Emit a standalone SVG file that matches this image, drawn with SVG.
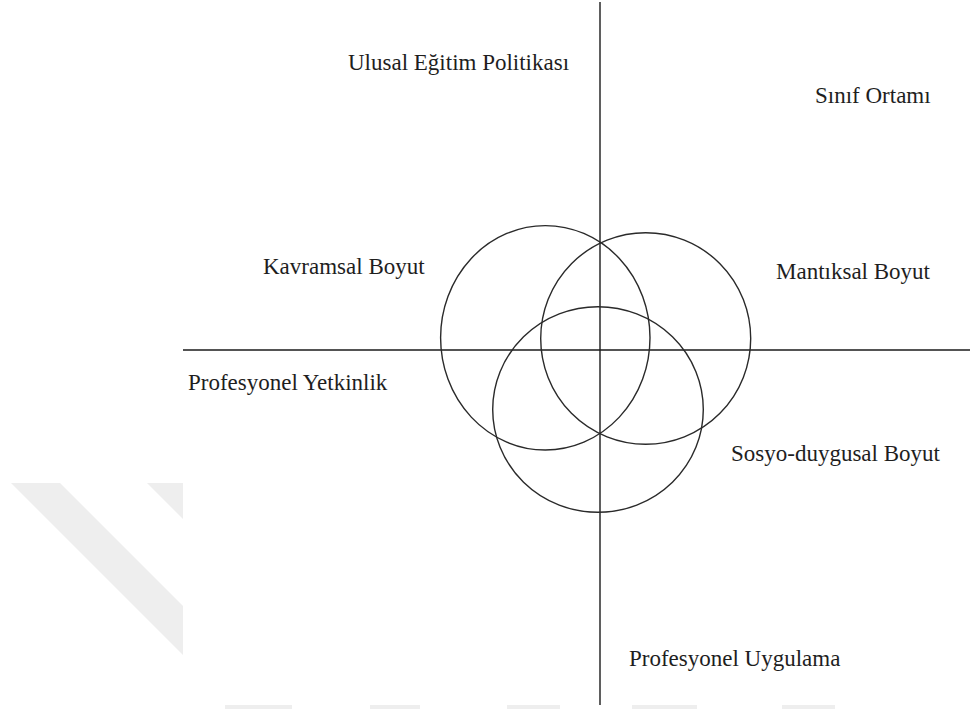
<svg xmlns="http://www.w3.org/2000/svg" width="970" height="709" viewBox="0 0 970 709">
  <style>
    .lbl { font-family: "Liberation Serif", "Times New Roman", serif; font-size: 23px; fill: #1e1e1e; }
    .axis { stroke: #1a1a1a; stroke-width: 1.4; fill: none; }
    .ring { stroke: #2a2a2a; stroke-width: 1.4; fill: none; }
    .wm { fill: #eeeeee; }
  </style>
  <rect x="0" y="0" width="970" height="709" fill="#ffffff"/>
  <g id="watermark">
    <polygon class="wm" points="11,483 60,483 183,606 183,655"/>
    <polygon class="wm" points="147,483 183,483 183,519"/>
    <rect class="wm" x="225" y="705" width="67" height="4"/>
    <rect class="wm" x="370" y="705" width="50" height="4"/>
    <rect class="wm" x="507" y="705" width="53" height="4"/>
    <rect class="wm" x="632" y="705" width="65" height="4"/>
    <rect class="wm" x="782" y="705" width="53" height="4"/>
  </g>
  <g id="axes">
    <line class="axis" x1="600" y1="2" x2="600" y2="705"/>
    <line class="axis" x1="183" y1="350" x2="970" y2="350"/>
  </g>
  <g id="circles">
    <ellipse id="circle-kavramsal" class="ring" cx="545.3" cy="337.8" rx="104.7" ry="112.2"/>
    <ellipse id="circle-mantiksal" class="ring" cx="645.7" cy="338.5" rx="105" ry="105.8"/>
    <ellipse id="circle-sosyo" class="ring" cx="598" cy="409.5" rx="105.3" ry="102.8"/>
  </g>
  <g id="label-ulusal"><text class="lbl" x="348" y="70">Ulusal Eğitim Politikası</text></g>
  <g id="label-sinif"><text class="lbl" x="815" y="103">Sınıf Ortamı</text></g>
  <g id="label-kavramsal"><text class="lbl" x="263" y="274">Kavramsal Boyut</text></g>
  <g id="label-mantiksal"><text class="lbl" x="776" y="279">Mantıksal Boyut</text></g>
  <g id="label-yetkinlik"><text class="lbl" x="188" y="390">Profesyonel Yetkinlik</text></g>
  <g id="label-sosyo"><text class="lbl" x="731" y="461">Sosyo-duygusal Boyut</text></g>
  <g id="label-uygulama"><text class="lbl" x="629" y="666">Profesyonel Uygulama</text></g>
</svg>
